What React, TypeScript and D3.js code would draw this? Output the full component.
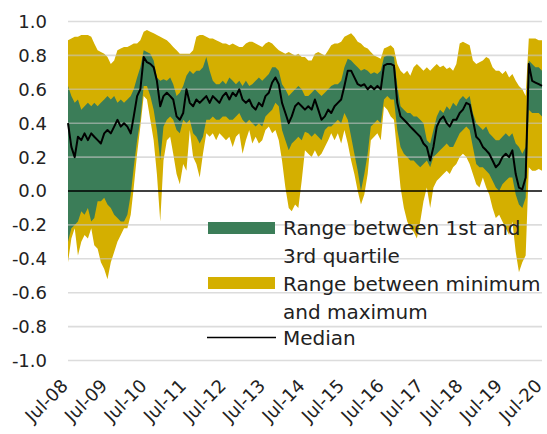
import React from "react";
import * as d3 from "d3";

// Monthly observations, Jul-2008 .. Jul-2020
const maxVals = [
  0.89, 0.90, 0.91, 0.91, 0.92, 0.92, 0.92, 0.91, 0.87, 0.83, 0.82, 0.81,
  0.79, 0.75, 0.77, 0.83, 0.84, 0.85, 0.85, 0.86, 0.87, 0.87, 0.89, 0.94,
  0.95, 0.94, 0.93, 0.92, 0.91, 0.90, 0.89, 0.87, 0.85, 0.83, 0.81, 0.81,
  0.81, 0.81, 0.83, 0.91, 0.92, 0.92, 0.91, 0.90, 0.90, 0.89, 0.88, 0.87,
  0.87, 0.86, 0.87, 0.86, 0.85, 0.85, 0.87, 0.88, 0.88, 0.87, 0.86, 0.85,
  0.87, 0.88, 0.87, 0.85, 0.83, 0.82, 0.81, 0.82, 0.81, 0.80, 0.81, 0.79,
  0.79, 0.77, 0.77, 0.81, 0.82, 0.81, 0.80, 0.83, 0.86, 0.87, 0.87, 0.88,
  0.91, 0.92, 0.93, 0.91, 0.88, 0.87, 0.85, 0.84, 0.82, 0.80, 0.79, 0.78,
  0.84, 0.85, 0.86, 0.84, 0.75, 0.71, 0.69, 0.71, 0.68, 0.73, 0.75, 0.73,
  0.71, 0.73, 0.71, 0.73, 0.75, 0.73, 0.74, 0.72, 0.73, 0.71, 0.75, 0.87,
  0.88, 0.87, 0.86, 0.77, 0.75, 0.76, 0.77, 0.79, 0.78, 0.73, 0.71, 0.71,
  0.69, 0.71, 0.67, 0.69, 0.65, 0.62, 0.60, 0.56, 0.90, 0.90, 0.90, 0.89,
  0.89,
];
const q3Vals = [
  0.62, 0.56, 0.52, 0.54, 0.48, 0.50, 0.52, 0.50, 0.52, 0.50, 0.52, 0.54,
  0.56, 0.54, 0.56, 0.52, 0.54, 0.52, 0.54, 0.56, 0.60, 0.67, 0.73, 0.83,
  0.82, 0.81, 0.77, 0.67, 0.65, 0.66, 0.65, 0.67, 0.63, 0.56, 0.58, 0.62,
  0.68, 0.71, 0.69, 0.71, 0.71, 0.73, 0.79, 0.71, 0.65, 0.63, 0.63, 0.65,
  0.63, 0.67, 0.65, 0.63, 0.65, 0.62, 0.65, 0.62, 0.63, 0.65, 0.67, 0.65,
  0.67, 0.69, 0.73, 0.73, 0.71, 0.63, 0.60, 0.56, 0.58, 0.60, 0.62, 0.60,
  0.56, 0.56, 0.58, 0.60, 0.58, 0.56, 0.58, 0.60, 0.62, 0.63, 0.63, 0.65,
  0.73, 0.78, 0.77, 0.75, 0.73, 0.71, 0.72, 0.71, 0.69, 0.70, 0.69, 0.71,
  0.79, 0.80, 0.80, 0.79, 0.62, 0.50, 0.48, 0.46, 0.46, 0.44, 0.44, 0.42,
  0.40, 0.30, 0.28, 0.36, 0.44, 0.48, 0.46, 0.50, 0.48, 0.52, 0.50, 0.54,
  0.56, 0.54, 0.56, 0.46, 0.40, 0.38, 0.36, 0.38, 0.34, 0.32, 0.30, 0.30,
  0.32, 0.34, 0.32, 0.34, 0.28, 0.26, 0.22, 0.26, 0.77, 0.75, 0.73, 0.73,
  0.71,
];
const medianVals = [
  0.40, 0.26, 0.20, 0.32, 0.30, 0.34, 0.30, 0.34, 0.32, 0.30, 0.28, 0.34,
  0.36, 0.34, 0.38, 0.42, 0.38, 0.40, 0.38, 0.34, 0.44, 0.56, 0.60, 0.79,
  0.76, 0.75, 0.73, 0.65, 0.50, 0.56, 0.58, 0.56, 0.54, 0.44, 0.42, 0.46,
  0.60, 0.52, 0.50, 0.54, 0.52, 0.54, 0.56, 0.52, 0.56, 0.54, 0.52, 0.56,
  0.58, 0.54, 0.58, 0.56, 0.60, 0.54, 0.52, 0.54, 0.50, 0.48, 0.52, 0.50,
  0.56, 0.58, 0.64, 0.67, 0.63, 0.52, 0.46, 0.40, 0.44, 0.50, 0.52, 0.50,
  0.48, 0.50, 0.48, 0.54, 0.48, 0.42, 0.44, 0.48, 0.46, 0.50, 0.52, 0.54,
  0.62, 0.71, 0.71, 0.67, 0.63, 0.62, 0.63, 0.60, 0.62, 0.60, 0.62, 0.60,
  0.74, 0.75, 0.75, 0.74, 0.52, 0.44, 0.42, 0.40, 0.38, 0.36, 0.34, 0.32,
  0.28, 0.26, 0.18, 0.26, 0.38, 0.42, 0.44, 0.40, 0.38, 0.42, 0.42, 0.46,
  0.48, 0.52, 0.51, 0.42, 0.32, 0.30, 0.26, 0.24, 0.22, 0.18, 0.14, 0.16,
  0.20, 0.22, 0.20, 0.24, 0.10, 0.02, 0.01, 0.08, 0.75, 0.65, 0.64, 0.63,
  0.62,
];
const q1Vals = [
  -0.30, -0.22, -0.20, -0.18, -0.12, -0.14, -0.10, -0.18, -0.16, -0.06, -0.06, -0.04,
  -0.08, -0.10, -0.14, -0.16, -0.18, -0.18, -0.14, -0.02, 0.14, 0.30, 0.42, 0.62,
  0.62, 0.56, 0.48, 0.36, 0.18, 0.38, 0.42, 0.44, 0.42, 0.36, 0.34, 0.42,
  0.40, 0.42, 0.34, 0.32, 0.28, 0.32, 0.42, 0.42, 0.44, 0.42, 0.42, 0.44,
  0.44, 0.42, 0.42, 0.44, 0.46, 0.42, 0.40, 0.42, 0.40, 0.38, 0.40, 0.38,
  0.44, 0.46, 0.48, 0.52, 0.50, 0.36, 0.30, 0.24, 0.28, 0.30, 0.32, 0.30,
  0.35, 0.34, 0.32, 0.34, 0.32, 0.30, 0.36, 0.38, 0.38, 0.40, 0.42, 0.40,
  0.46, 0.42, 0.32, 0.22, 0.12, 0.00, 0.10, 0.22, 0.38, 0.40, 0.42, 0.40,
  0.54, 0.56, 0.54, 0.54, 0.36, 0.26, 0.22, 0.20, 0.18, 0.18, 0.16, 0.14,
  0.16, 0.18, 0.14, 0.20, 0.22, 0.24, 0.26, 0.28, 0.26, 0.26, 0.30, 0.34,
  0.36, 0.38, 0.36, 0.26, 0.16, 0.14, 0.14, 0.12, 0.10, 0.06, 0.02, 0.00,
  0.04, 0.06, 0.08, 0.08, -0.02, -0.08, -0.10, -0.04, 0.48, 0.46, 0.46, 0.46,
  0.44,
];
const minVals = [
  -0.42, -0.28, -0.22, -0.38, -0.30, -0.26, -0.28, -0.22, -0.32, -0.34, -0.42, -0.46,
  -0.52, -0.42, -0.36, -0.30, -0.26, -0.22, -0.22, -0.14, 0.02, 0.22, 0.38, 0.56,
  0.54, 0.42, 0.30, 0.10, -0.18, 0.18, 0.30, 0.32, 0.22, 0.10, 0.04, 0.16,
  0.12, 0.36, 0.20, 0.16, 0.08, 0.22, 0.34, 0.32, 0.34, 0.30, 0.34, 0.32,
  0.30, 0.32, 0.26, 0.32, 0.34, 0.22, 0.30, 0.36, 0.28, 0.32, 0.28, 0.30,
  0.36, 0.38, 0.34, 0.36, 0.30, 0.18, 0.02, -0.10, -0.12, -0.08, -0.10, 0.06,
  0.24, 0.22, 0.20, 0.24, 0.20, 0.22, 0.26, 0.30, 0.34, 0.30, 0.34, 0.28,
  0.36, 0.28, 0.18, 0.10, 0.00, -0.08, -0.02, 0.10, 0.30, 0.32, 0.34, 0.30,
  0.50, 0.48, 0.44, 0.42, 0.22, 0.02, -0.10, -0.18, -0.22, -0.24, -0.28, -0.18,
  -0.06, 0.02, -0.10, 0.02, 0.06, 0.08, 0.10, 0.12, 0.10, 0.14, 0.16, 0.20,
  0.22, 0.20, 0.16, 0.10, 0.04, 0.02, 0.08, 0.02, -0.02, -0.10, -0.16, -0.14,
  -0.18, -0.22, -0.26, -0.18, -0.36, -0.48, -0.42, -0.38, 0.14, 0.12, 0.12, 0.13,
  0.12,
];

const xTickLabels = [
  "Jul-08", "Jul-09", "Jul-10", "Jul-11", "Jul-12", "Jul-13", "Jul-14",
  "Jul-15", "Jul-16", "Jul-17", "Jul-18", "Jul-19", "Jul-20",
];
const yTickValues = [1.0, 0.8, 0.6, 0.4, 0.2, 0.0, -0.2, -0.4, -0.6, -0.8, -1.0];
const yTickLabels = ["1.0", "0.8", "0.6", "0.4", "0.2", "0.0", "-0.2", "-0.4", "-0.6", "-0.8", "-1.0"];

const legendLines = [
  "Range between 1st and",
  "3rd quartile",
  "Range between minimum",
  "and maximum",
  "Median",
];

const GREEN = "#3b7d58";
const YELLOW = "#d4af00";
const FONT = "'DejaVu Sans', Verdana, sans-serif";

export default function App() {
  const W = 547;
  const H = 434;
  const start = new Date(2008, 6, 1);
  const dates = maxVals.map((_, i) => d3.timeMonth.offset(start, i));
  const x = d3.scaleTime().domain([start, new Date(2020, 6, 1)]).range([68, 542]);
  const y = d3.scaleLinear().domain([-1, 1]).range([360.5, 21.5]);

  const idx = d3.range(maxVals.length);
  const outer = d3
    .area<number>()
    .x((i) => x(dates[i]))
    .y0((i) => y(minVals[i]))
    .y1((i) => y(maxVals[i]))(idx) as string;
  const inner = d3
    .area<number>()
    .x((i) => x(dates[i]))
    .y0((i) => y(q1Vals[i]))
    .y1((i) => y(q3Vals[i]))(idx) as string;
  const med = d3
    .line<number>()
    .x((i) => x(dates[i]))
    .y((i) => y(medianVals[i]))(idx) as string;

  const [x0, x1] = x.range();

  return (
    <svg
      width={W}
      height={H}
      style={{ position: "absolute", left: 0, top: 0, background: "#fff" }}
      fontFamily={FONT}
    >
      <rect width={W} height={H} fill="#fff" />
      <path d={outer} fill={YELLOW} />
      <path d={inner} fill={GREEN} />
      {yTickValues
        .filter((v) => v !== 0)
        .map((v) => (
          <line
            key={"g" + v}
            x1={x0}
            x2={x1}
            y1={y(v)}
            y2={y(v)}
            stroke="#c4c4c4"
            strokeWidth={1.6}
            strokeOpacity={0.6}
          />
        ))}
      <line x1={x0} x2={x1} y1={y(0)} y2={y(0)} stroke="#000" strokeWidth={1.5} />
      <path d={med} fill="none" stroke="#000" strokeWidth={2} strokeLinejoin="round" />

      {yTickValues.map((v, i) => (
        <text
          key={"y" + v}
          x={47}
          y={y(v)}
          dy="0.36em"
          textAnchor="end"
          fontSize={18}
          fill="#222"
        >
          {yTickLabels[i]}
        </text>
      ))}

      {xTickLabels.map((lab, i) => {
        const px = x(new Date(2008 + i, 6, 1)) + 1;
        const py = 387;
        return (
          <text
            key={lab}
            x={px}
            y={py}
            textAnchor="end"
            fontSize={18}
            fill="#222"
            transform={`rotate(-45 ${px} ${py})`}
          >
            {lab}
          </text>
        );
      })}

      {/* Legend */}
      <rect x={208} y={222} width={67} height={12} fill={GREEN} />
      <rect x={208} y={277} width={67} height={12} fill={YELLOW} />
      <line x1={207} x2={276} y1={337.5} y2={337.5} stroke="#000" strokeWidth={1.5} />
      {legendLines.map((t, i) => (
        <text key={t} x={283} y={[235, 263, 291, 319, 345][i]} fontSize={20} fill="#222">
          {t}
        </text>
      ))}
    </svg>
  );
}
